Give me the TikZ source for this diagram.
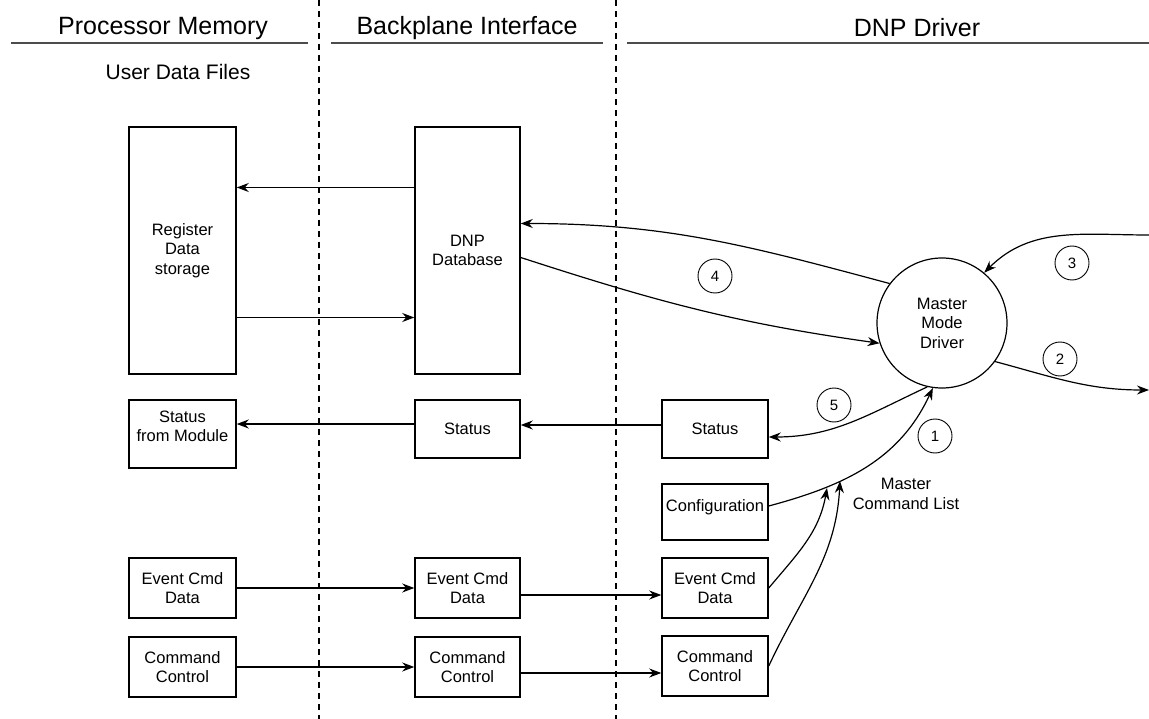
\documentclass[tikz,border=0pt]{standalone}
\usepackage{fontspec}
\setmainfont{Liberation Sans}
\usetikzlibrary{arrows.meta}
\newcommand\headfont{\fontsize{25}{28}\selectfont}
\newcommand\boxfont{\fontsize{16.5}{19.5}\selectfont}
\newcommand\numfont{\fontsize{15}{17}\selectfont}

\begin{document}
\begin{tikzpicture}
[
x=1pt,y=-1pt,
line width=1.2pt,
>={Stealth[length=12pt,width=9pt]},
box/.style 2 args={draw,rectangle,line width=1.5pt,minimum width=#1,minimum height=#2,inner sep=1pt,align=center,font=\boxfont},
num/.style={draw,circle,line width=0.9pt,minimum size=34pt,inner sep=0pt,font=\numfont},
head/.style={font=\headfont},
lane/.style={dash pattern=on 6pt off 5pt},
rule/.style={line width=2.2pt,draw=black!70},
]
\useasboundingbox (0,0) rectangle (1149,719);

%Lanes and headings
\draw[lane] (319,0) -- (319,719);
\draw[lane] (616,0) -- (616,719);
\draw[rule] (11,43) -- (308,43);
\draw[rule] (331,43) -- (603,43);
\draw[rule] (627,43) -- (1149,43);
\node[head] (hmem) at (163,28) {Processor Memory};
\node[head] (hbp) at (467,28) {Backplane Interface};
\node[head] (hdnp) at (917,28) {DNP Driver};
\node[font=\fontsize{21}{24}\selectfont] (udf) at (178,72) {User Data Files};

%Place the nodes
\node[box={107pt}{247pt}] (reg) at (182.5,250.5) {Register\\Data\\storage};
\node[box={105pt}{247pt}] (dnpdb) at (467.5,250.5) {DNP\\Database};
\node[box={107pt}{68pt}] (stmod) at (182.5,434) {Status\\from Module\\[-4pt]};
\node[box={105pt}{58pt}] (stbp) at (467.5,429) {Status};
\node[box={106pt}{58pt}] (stdrv) at (715,429) {Status};
\node[box={106pt}{56pt},text height=12pt,text depth=13pt] (config) at (715,512) {Configuration};
\node[box={107pt}{60pt}] (evmem) at (182.5,588) {Event Cmd\\Data};
\node[box={105pt}{60pt}] (evbp) at (467.5,588) {Event Cmd\\Data};
\node[box={106pt}{60pt}] (evdrv) at (715,588) {Event Cmd\\Data};
\node[box={107pt}{60pt}] (cmdmem) at (182.5,667) {Command\\Control};
\node[box={105pt}{60pt}] (cmdbp) at (467.5,667) {Command\\Control};
\node[box={106pt}{60pt}] (cmddrv) at (715,666) {Command\\Control};
\node[draw,circle,minimum size=130pt,inner sep=0pt,align=center,font=\boxfont] (master) at (942,323) {Master\\Mode\\Driver};
\node[align=center,font=\boxfont] (cmdlist) at (906,494) {Master\\Command List};
\coordinate (in3) at (1149,235);
\coordinate (out2) at (1149,390);
\coordinate (cl1) at (827,488);
\coordinate (cl2) at (840,481);

%Draw the connections
\draw[->] ([yshift=63pt]dnpdb.west) -- ([yshift=63pt]reg.east);
\draw[->] ([yshift=-67pt]reg.east) -- ([yshift=-67pt]dnpdb.west);
\draw[->] ([yshift=5pt]stbp.west) -- ([yshift=10pt]stmod.east);
\draw[->] ([yshift=4pt]stdrv.west) -- ([yshift=4pt]stbp.east);
\draw[->] (evmem.east) -- (evbp.west);
\draw[->] ([yshift=-7pt]evbp.east) -- ([yshift=-7pt]evdrv.west);
\draw[->] (cmdmem.east) -- (cmdbp.west);
\draw[->] ([yshift=-6pt]cmdbp.east) -- ([yshift=-7pt]cmddrv.west);
\draw[->] (master.143) to[out=165,in=0] ([yshift=27pt]dnpdb.east);
\draw[->] ([yshift=-7pt]dnpdb.east) to[out=-18,in=172] (master.198);
\draw[->] (in3) to[out=180,in=45] (master.50);
\draw[->] (master.-36) to[out=-15,in=180] (out2);
\draw[->] (master.-103) to[out=205,in=0] ([yshift=-8pt]stdrv.east);
\draw[->] ([yshift=6pt]config.east) to[out=15,in=-115] (master.-98);
\draw[->] (evdrv.east) to[out=50,in=-100] (cl1);
\draw[->] (cmddrv.east) to[out=65,in=-93] (cl2);
\node[num] (n4) at (715,276) {4};
\node[num] (n3) at (1072,263) {3};
\node[num] (n2) at (1060,359) {2};
\node[num] (n5) at (834,405) {5};
\node[num] (n1) at (935,436) {1};
\end{tikzpicture}
\end{document}
